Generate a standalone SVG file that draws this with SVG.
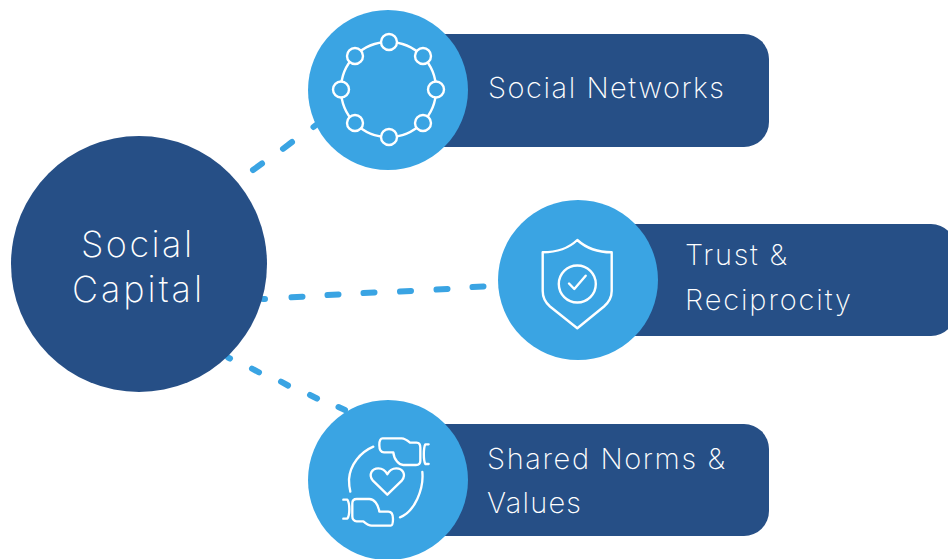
<svg xmlns="http://www.w3.org/2000/svg" width="948" height="559" viewBox="0 0 948 559">
<style>
.pill{fill:#264f86}
.disc{fill:#3aa4e3}
.hub{fill:#264f86}
.t{font-family:Inter,"Liberation Sans",sans-serif;font-weight:200;fill:#fff}
.l{font-size:29px}
.h{font-size:36px}
.ic{fill:none;stroke:#fff;stroke-width:2.4;stroke-linecap:round;stroke-linejoin:round}
.nd{fill:#3aa4e3;stroke:#fff;stroke-width:2.4}
.c{fill:none;stroke:#3aa4e3;stroke-width:6;stroke-linecap:round}
</style>
<g id="connectors">
<path class="c" d="M253 170L262 163.500M283 148.800L292 142M313.500 127L316 125"/>
<path class="c" d="M263 299L265 299M291.500 297.300L302.500 296.700M327.500 295L338.500 294.500M363.500 293L374.500 292.500M400 291.500L411 291M436.500 289.500L447.500 289M472.500 287L483.500 286.500"/>
<path class="c" d="M228 357.500L230 358.500M252 368.700L259 372.300M281 381.700L288 385.500M310 395L317 398.500M338.500 407L345 410"/>
</g>
<g id="hub">
<circle class="hub" cx="139" cy="264" r="128"/>
<text class="t h" x="81" y="257" textLength="111">Social</text>
<text class="t h" x="72" y="302" textLength="130">Capital</text>
</g>
<g id="node-networks">
<rect class="pill" x="400" y="34" width="369" height="113" rx="25"/>
<circle class="disc" cx="388" cy="90" r="80"/>
<circle class="ic" cx="388.500" cy="89.500" r="47.500"/>
<circle class="nd" cx="389" cy="42" r="8"/>
<circle class="nd" cx="355" cy="56" r="8"/>
<circle class="nd" cx="423" cy="56" r="8"/>
<circle class="nd" cx="341" cy="89.500" r="8"/>
<circle class="nd" cx="436" cy="89.500" r="8"/>
<circle class="nd" cx="355" cy="123" r="8"/>
<circle class="nd" cx="423" cy="123" r="8"/>
<circle class="nd" cx="389" cy="137" r="8"/>
<text class="t l" x="488" y="98" textLength="236">Social Networks</text>
</g>
<g id="node-trust">
<rect class="pill" x="590" y="224" width="366" height="112" rx="25"/>
<circle class="disc" cx="578" cy="280" r="80"/>
<path class="ic" d="M577.300 240C569 248 556 252.300 542.700 252.300V291C542.700 299 546 303 550 306.500L577.300 328.300L604 306.500C608 303 611.700 299 611.700 291V252.300C598 252.300 586 248 577.300 240Z"/>
<circle class="ic" cx="577.300" cy="284" r="18.500"/>
<path class="ic" d="M569 283.500L574.300 289L585.700 275.700"/>
<text class="t l" x="685" y="265" textLength="102">Trust &amp;</text>
<text class="t l" x="685" y="310" textLength="166">Reciprocity</text>
</g>
<g id="node-norms">
<rect class="pill" x="400" y="424" width="369" height="112" rx="25"/>
<circle class="disc" cx="388" cy="480" r="80"/>
<g transform="translate(300 395) scale(.3333)">
<g fill="none" stroke="#fff" stroke-width="7" stroke-linecap="round" stroke-linejoin="round">
<path d="M220 155C180 172 150 210 147 253C147 265 148 278 151 290"/>
<path d="M367 231C372 280 345 350 300 367"/>
<path d="M262 299L218 256C205 240 215 220 235 220C247 220 257 228 262 238C267 228 277 220 289 220C309 220 319 240 306 256Z"/>
<path d="M248 130H305C315 130 322 136 330 143H350C358 143 361 150 361 158V198C361 206 356 210 348 210H310C298 210 282 195 280 172H252C240 172 238 160 238 150C238 138 240 130 248 130Z"/>
<path d="M386 148H376C370 160 370 195 376 207H386"/>
<path d="M272 392H215C205 392 198 386 190 379H170C162 379 157 372 157 364V325C157 316 162 312 170 312H208C222 312 235 328 238 350H265C275 350 279 360 279 372C279 384 278 392 272 392Z"/>
<path d="M130 314H142C150 326 150 360 142 371H130"/>
</g>
</g>
<text class="t l" x="487" y="469" textLength="238">Shared Norms &amp;</text>
<text class="t l" x="487" y="513" textLength="94">Values</text>
</g>
</svg>
